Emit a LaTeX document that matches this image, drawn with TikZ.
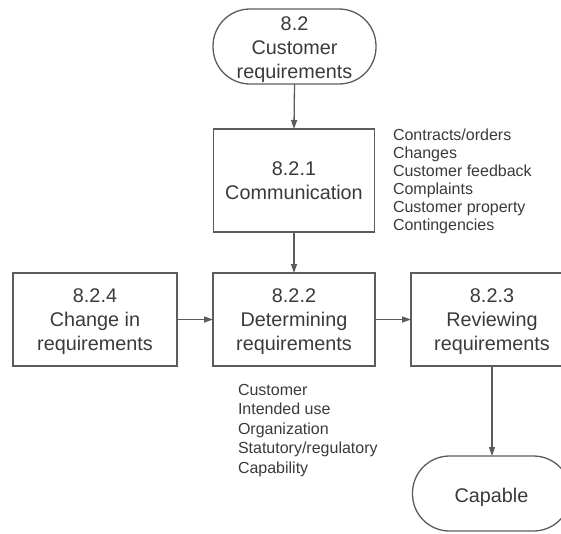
\documentclass[tikz,border=0pt]{standalone}
\usepackage{fontspec}
\setmainfont{Liberation Sans}
\usetikzlibrary{arrows.meta}
\definecolor{linegray}{HTML}{5C5C5C}
\definecolor{textgray}{HTML}{3A3A3A}
\begin{document}
\begin{tikzpicture}[x=1pt,y=-1pt,
  every node/.style={inner sep=0pt, outer sep=0pt, text=textgray},
  boxtext/.style={align=center, font=\fontsize{19.8}{24}\selectfont},
  procbox/.style={draw=linegray, line width=1.3pt, rectangle},
  termbox/.style={draw=linegray, line width=1.3pt, rectangle, rounded corners=37pt},
  listtext/.style={align=left, anchor=north west},
  flow/.style={draw=linegray, line width=1.3pt, -{Triangle[length=9pt,width=6pt]}}
]
\useasboundingbox (0,0) rectangle (561,533);

% start and end terminals
\node[termbox, minimum width=163pt, minimum height=75pt] (start) at (294.5,46.5) {};
\node[termbox, minimum width=158pt, minimum height=75pt] (capable) at (491.5,493.5) {};

% process boxes
\node[procbox, minimum width=161pt, minimum height=103pt] (comm) at (294,180.5) {};
\node[procbox, minimum width=164pt, minimum height=93pt] (change) at (95,319.5) {};
\node[procbox, minimum width=162pt, minimum height=93pt] (determ) at (294,319.5) {};
\node[procbox, minimum width=162pt, minimum height=93pt] (review) at (492,319.5) {};

% box labels
\node[boxtext] (starttxt) at ([yshift=-3.5pt]start.center) {8.2\\Customer\\requirements};
\node[boxtext] (capabletxt) at ([yshift=-4pt]capable.center) {Capable};
\node[boxtext] (commtxt) at (comm.center) {8.2.1\\Communication};
\node[boxtext] (changetxt) at ([yshift=-2.5pt]change.center) {8.2.4\\Change in\\requirements};
\node[boxtext] (determtxt) at ([yshift=-2.5pt]determ.center) {8.2.2\\Determining\\requirements};
\node[boxtext] (reviewtxt) at ([yshift=-2.5pt]review.center) {8.2.3\\Reviewing\\requirements};

% input lists
\node[listtext, font=\fontsize{16}{18}\selectfont] (commlist) at (393,129)
  {Contracts/orders\\Changes\\Customer feedback\\Complaints\\Customer property\\Contingencies};
\node[listtext, font=\fontsize{16}{19.5}\selectfont] (determlist) at (238,384)
  {Customer\\Intended use\\Organization\\Statutory/regulatory\\Capability};

% connectors
\draw[flow] (start.south) -- (comm.north);
\draw[flow] (comm.south) -- (determ.north);
\draw[flow] (change.east) -- (determ.west);
\draw[flow] (determ.east) -- (review.west);
\draw[flow] (review.south) -- (review.south |- capable.north);
\end{tikzpicture}
\end{document}
